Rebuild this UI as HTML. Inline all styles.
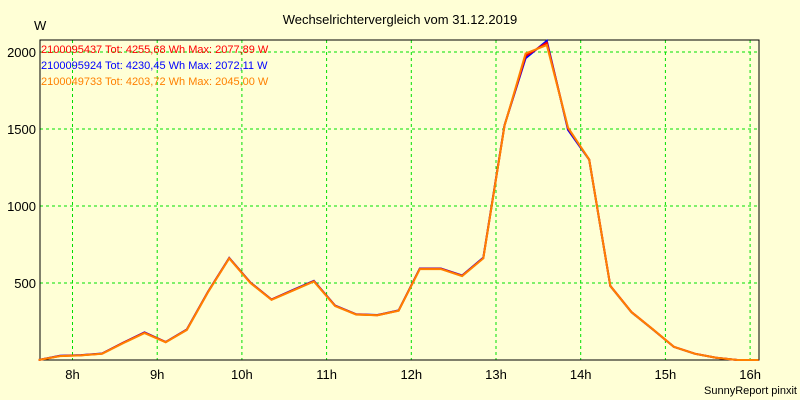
<!DOCTYPE html>
<html><head><meta charset="utf-8"><style>
html,body{margin:0;padding:0;background:#ffffd6;}
svg{display:block;font-family:"Liberation Sans",sans-serif;}
</style></head><body>
<svg id="chart" width="800" height="400">
<rect x="0" y="0" width="800" height="400" fill="#ffffd6"/>
<text x="400" y="24" font-size="13" text-anchor="middle" fill="#000">Wechselrichtervergleich vom 31.12.2019</text>
<text x="34" y="30" font-size="13" fill="#000">W</text>
<g id="grid"></g>
<g id="axes"></g>
<g id="series"></g>
<g id="legend"></g>
<text x="797" y="394" font-size="11" text-anchor="end" fill="#000">SunnyReport pinxit</text>
</svg>
<script>
const times = [7.60,7.85,8.10,8.35,8.60,8.85,9.10,9.35,9.60,9.85,10.10,10.35,10.60,10.85,11.10,11.35,11.60,11.85,12.10,12.35,12.60,12.85,13.10,13.35,13.60,13.85,14.10,14.35,14.60,14.85,15.10,15.35,15.60,15.85,16.10];
const seriesOrange = [0,25,30,40,110,175,115,195,440,660,500,390,450,510,350,295,290,320,590,590,545,660,1520,1990,2045,1510,1300,480,310,200,85,40,15,0,0];
const seriesRed = [0,26,31,41,112,177,116,197,442,661,502,392,452,512,352,296,291,321,592,592,547,662,1522,1975,2060,1505,1302,482,312,200,86,41,15,0,0];
const seriesBlue = [0,27,32,42,113,179,117,198,443,663,503,393,454,514,353,297,292,322,594,594,549,664,1525,1960,2072,1495,1300,480,310,199,85,40,15,0,0];
const yTicks = [500,1000,1500,2000];
const xTicks = [8,9,10,11,12,13,14,15,16];
const legendLabels = ["2100095437 Tot: 4255,68 Wh Max: 2077,89 W","2100095924 Tot: 4230,45 Wh Max: 2072,11 W","2100049733 Tot: 4203,72 Wh Max: 2045,00 W"];
const legendColors = ["#ff0000","#0000ff","#ff8000"];

const L=40,R=759,T=40,B=360;
const x = h => 72.5 + (h-8)*84.7;
const y = v => B - v*77/500;
const NS="http://www.w3.org/2000/svg";
function mk(tag, parent){const e=document.createElementNS(NS,tag);parent.appendChild(e);return e;}
const grid=document.getElementById('grid'), axes=document.getElementById('axes'), ser=document.getElementById('series'), leg=document.getElementById('legend');

yTicks.forEach(v=>{
  const l=mk('line',grid);
  
  
  l.setAttribute('x1',L);l.setAttribute('x2',R);l.setAttribute('y1',y(v));l.setAttribute('y2',y(v));
  l.setAttribute('stroke','#00e000');l.setAttribute('stroke-dasharray','3,3');
  const t=mk('text',axes);
  
  
  t.setAttribute('x',36);t.setAttribute('y',y(v)+5);t.setAttribute('font-size','13');t.setAttribute('text-anchor','end');
  t.textContent=v;
});
xTicks.forEach(h=>{
  const l=mk('line',grid);
  
  
  l.setAttribute('x1',x(h));l.setAttribute('x2',x(h));l.setAttribute('y1',T);l.setAttribute('y2',B);
  l.setAttribute('stroke','#00e000');l.setAttribute('stroke-dasharray','3,3');
  const t=mk('text',axes);
  
  
  t.setAttribute('x',x(h));t.setAttribute('y',379);t.setAttribute('font-size','13');t.setAttribute('text-anchor','middle');
  t.textContent=h+'h';
});
const frame=mk('rect',axes);


frame.setAttribute('x',L);frame.setAttribute('y',T);frame.setAttribute('width',R-L);frame.setAttribute('height',B-T);
frame.setAttribute('fill','none');frame.setAttribute('stroke','#000');

[[seriesBlue,'#0000ff','series-blue'],[seriesRed,'#ff0000','series-red'],[seriesOrange,'#ff8000','series-orange']].forEach(([d,c,n])=>{
  const p=mk('polyline',ser);
  
  
  p.setAttribute('points',d.map((v,k)=>x(times[k]).toFixed(1)+','+y(v).toFixed(1)).join(' '));
  p.setAttribute('fill','none');p.setAttribute('stroke',c);p.setAttribute('stroke-width','2');
});

legendLabels.forEach((s,i)=>{
  const t=mk('text',leg);
  
  
  t.setAttribute('x',41);t.setAttribute('y',53+i*16);t.setAttribute('font-size','11');t.setAttribute('fill',legendColors[i]);
  t.textContent=s;
});
</script>
</body></html>
